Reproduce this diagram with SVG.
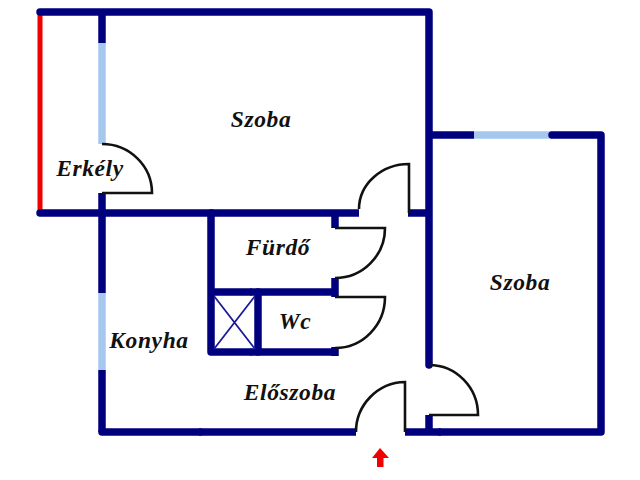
<svg xmlns="http://www.w3.org/2000/svg" width="640" height="480" viewBox="0 0 640 480">
<style>
.w{fill:none;stroke:#00007f;stroke-width:7.5;stroke-linecap:round;stroke-linejoin:round}
.b{fill:none;stroke:#00007f;stroke-width:7.5;stroke-linecap:butt}
.g{fill:none;stroke:#a6c8ef;stroke-width:7.5}
.d{fill:none;stroke:#111;stroke-width:2.6}
.t{font-family:"Liberation Serif",serif;font-weight:bold;font-style:italic;font-size:23.5px;fill:#111;text-anchor:middle;letter-spacing:.6px}
</style>
<rect width="640" height="480" fill="#fff"/>
<g id="walls">
<path class="g" d="M102 43V144M102 293V370M474 135H552"/>
<line x1="40" y1="12" x2="40" y2="213" stroke="#f00000" stroke-width="5"/>
<path class="w" d="M40 12H429V365M40 213H211"/>
<path class="b" d="M211 213H359M408 213H429"/>
<path class="b" d="M102 12V43M102 193V293M102 370V432M429 415V432"/>
<path class="w" d="M102 432H200M440 432H601V135H552"/>
<path class="b" d="M199 432H356M405 432H441M474 135H429"/>
<path class="w" d="M211 213V352H250M211 292H250M258 292V352"/>
<path class="b" d="M250 352H336M250 292H336"/>
<path class="b" d="M335 213V228M335 278V297M335 347V356"/>
<path fill="none" stroke="#1a1a9a" stroke-width="1.8" d="M214 296L255 349M255 296L214 349"/>
</g>
<g id="doors">
<path class="d" d="M102 144A50 49 0 0 1 152 193H102"/>
<path class="d" d="M359 209A50 45 0 0 1 409 164V213"/>
<path class="d" d="M335 228H385A50 50 0 0 1 335 278"/>
<path class="d" d="M335 297H385A50 51 0 0 1 335 348"/>
<path class="d" d="M356 432A50 50 0 0 1 405 382V432"/>
<path class="d" d="M429 365A49 50 0 0 1 478 415H429"/>
</g>
<g id="arrow"><path fill="#f00000" d="M380 448L389 458H383.500V467H377V458H372Z"/></g>
<g id="labels">
<text class="t" x="261" y="127">Szoba</text>
<text class="t" x="90" y="176">Erkély</text>
<text class="t" x="278" y="255">Fürdő</text>
<text class="t" x="295" y="329">Wc</text>
<text class="t" x="149" y="348">Konyha</text>
<text class="t" x="290" y="400">Előszoba</text>
<text class="t" x="520" y="290">Szoba</text>
</g>
</svg>
